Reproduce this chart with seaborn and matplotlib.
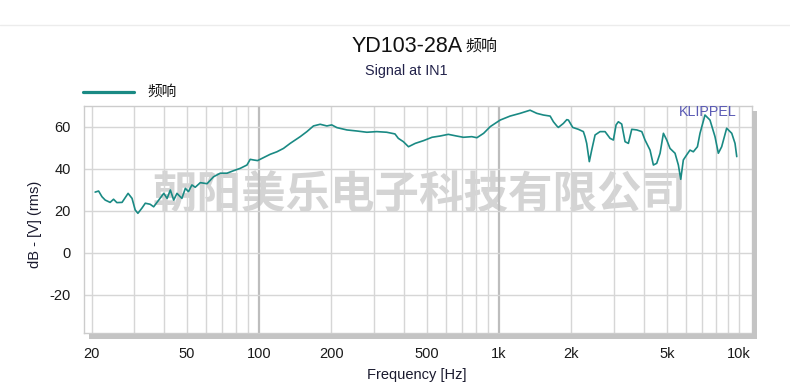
import matplotlib
matplotlib.use("Agg")
import matplotlib.pyplot as plt
import numpy as np
import pandas as pd
import seaborn as sns
from matplotlib.patches import Rectangle
from matplotlib.lines import Line2D
from matplotlib.ticker import MultipleLocator, NullLocator, FixedLocator

# ---------------- data ----------------
freq_hz = [20.7, 21.4, 22.1, 22.8, 23.9, 24.7, 25.5, 26.8, 28.4, 29.5,
           30.4, 31.2, 32.4, 33.5, 35.1, 36.3, 38.1, 40.0, 41.3, 42.6,
           44.0, 45.4, 47.6, 49.2, 50.7, 52.4, 54.1, 56.8, 60.6, 64.5,
           68.8, 73.4, 78.2, 83.3, 88.9, 91.7, 94.7, 98.4, 104.2, 111.1,
           118.5, 126.2, 134.6, 148.2, 158, 168.3, 179.5, 191.4, 200.6, 210.8,
           232, 255, 281, 309, 340, 368, 380, 399, 419, 447,
           484, 525, 567, 614, 665, 710, 769, 808, 862, 919,
           1010, 1111, 1223, 1346, 1436, 1530, 1632,
           1684, 1740, 1766, 1853, 1915, 1945, 2027, 2140, 2245, 2281,
           2318, 2377, 2432, 2512, 2635, 2765, 2901, 2995, 3073, 3141,
           3244, 3350, 3459, 3572, 3749, 3934, 4058, 4258, 4397, 4540,
           4688, 4841, 4998, 5158, 5412, 5588, 5717, 5861, 6051, 6248,
           6452, 6710, 6879, 7215, 7570, 7943, 8202, 8468, 8884, 9328,
           9626, 9788]
spl_db = [29, 29.5, 26.8, 25.2, 24.1, 25.6, 24, 24.1, 28.4, 26,
          20.5, 18.9, 21.3, 23.7, 23.2, 22, 25.2, 28.4, 26, 30,
          25.2, 28.4, 26, 30.8, 29.2, 32.4, 31.3, 33.5, 33, 36.3,
          38, 38, 39.2, 40.3, 41.9, 44.6, 44.3, 44, 45.4, 47,
          48.2, 49.8, 52.2, 55.4, 57.8, 60.5, 61.3, 60.5, 61, 59.7,
          58.6, 58.1, 57.5, 57.8, 57.5, 56.7, 54.6, 53, 50.6, 52.2,
          53.5, 55.1, 55.7, 56.5, 55.7, 55.1, 55.4, 54.9, 57, 60.2,
          63.3, 65.2, 66.5, 68, 66.5, 65.7, 65.2,
          62.5, 60.5, 59.8, 61.7, 63.5, 63.3, 59.8, 58.9, 57.8, 55.4,
          52.2, 43.5, 49, 56.2, 57.8, 57.8, 54.6, 53.8, 61, 62.5,
          61.4, 53, 52.2, 58.9, 58.6, 57.8, 53.8, 49, 41.9, 42.7,
          47.5, 57, 53.8, 49.8, 47.5, 41.9, 35.1, 44.3, 46.7, 49,
          48.2, 50.6, 57, 65.7, 63.3, 55.4, 47.5, 50.6, 59.4, 57,
          52.2, 45.9]

xtick_hz = [20, 50, 100, 200, 500, 1000, 2000, 5000, 10000]
xtick_labels = ["20", "50", "100", "200", "500", "1k", "2k", "5k", "10k"]
ytick_db = [-20, 0, 20, 40, 60]
grid_hz = [20, 30, 40, 50, 60, 70, 80, 90,
           200, 300, 400, 500, 600, 700, 800, 900,
           2000, 3000, 4000, 5000, 6000, 7000, 8000, 9000, 10000]
grid_major_hz = [100, 1000]

title_main = "YD103-28A"
title_cjk = "频响"
subtitle = "Signal at IN1"
series_name = "频响"
watermark = "朝阳美乐电子科技有限公司"

# ---------------- style ----------------
sns.set_style("white")
LAT = ["Liberation Sans", "DejaVu Sans"]
CJK = ["Noto Sans CJK SC", "DejaVu Sans"]
plt.rcParams["font.family"] = LAT
plt.rcParams["axes.unicode_minus"] = False

W, H = 790, 390
def fx(px):
    return px / W
def fy(py):
    return 1 - py / H

fig = plt.figure(figsize=(7.9, 3.9), dpi=100, facecolor="white")
ax = fig.add_axes([fx(84), fy(333), (752 - 84) / W, (333 - 106) / H])
ax.patch.set_alpha(0)

TEAL = "#1a8a84"
df = pd.DataFrame({"Frequency": freq_hz, "dB": spl_db})
sns.lineplot(data=df, x="Frequency", y="dB", ax=ax, color=TEAL,
             linewidth=1.2, zorder=3, legend=False)

ax.set_xscale("log")
ax.set_xlim(18.6, 11330)
ax.set_ylim(-38.1, 70)

# grid
for f in grid_hz:
    ax.axvline(f, color="#d6d6d6", lw=1.0, zorder=1)
for f in grid_major_hz:
    ax.axvline(f, color="#bdbdbd", lw=1.6, zorder=1)
for v in ytick_db:
    ax.axhline(v, color="#d6d6d6", lw=1.0, zorder=1)

ax.xaxis.set_major_locator(FixedLocator(xtick_hz))
ax.set_xticklabels(xtick_labels)
ax.xaxis.set_minor_locator(NullLocator())
ax.tick_params(axis="x", length=0, pad=10, labelsize=10.5, colors="#1a1a1a")

ax.set_yticks(ytick_db)
ax.yaxis.set_minor_locator(MultipleLocator(5))
ax.tick_params(axis="y", which="both", direction="in", length=5,
               width=0.8, color="#b8b8b8", pad=9.5, labelsize=10.5,
               labelcolor="#1a1a1a")
ax.set_xlabel("")
ax.set_ylabel("")
for s in ax.spines.values():
    s.set_color("#cccccc")
    s.set_linewidth(1.0)
    s.set_visible(True)

# shadow of the plot frame
fig.add_artist(Rectangle((fx(89), fy(339)), (757 - 89) / W, 5 / H,
                         facecolor="#c4c4c4", edgecolor="none"))
fig.add_artist(Rectangle((fx(752), fy(339)), 5 / W, (339 - 111) / H,
                         facecolor="#c4c4c4", edgecolor="none"))

# top separator line
fig.add_artist(Line2D([0, 1], [fy(25), fy(25)], color="#ececec", lw=1))

# watermark behind the grid
fig.text(fx(420), fy(196), watermark, ha="center", va="center",
         fontsize=32, color="#d4d4d4", family=CJK, weight="bold", zorder=-1)

# titles
fig.text(fx(462.7), fy(51.7), title_main, ha="right", va="baseline",
         fontsize=15.5, color="#111111", family=LAT)
fig.text(fx(465), fy(51.7), title_cjk, ha="left", va="baseline",
         fontsize=11.5, color="#111111", family=CJK)
fig.text(fx(365), fy(75), subtitle, ha="left", va="baseline",
         fontsize=10.4, color="#22224a", family=LAT)

# legend
fig.add_artist(Line2D([fx(83), fx(134)], [fy(92.3), fy(92.3)], color=TEAL, lw=2.3))
fig.text(fx(147), fy(92), series_name, ha="left", va="center",
         fontsize=10.5, color="#111111", family=CJK)

# KLIPPEL mark
fig.text(fx(737), fy(116.5), "KLIPPEL", ha="right", va="baseline",
         fontsize=10.3, color="#5a5ab4", family=LAT)

# axis labels
fig.text(fx(417), fy(379), "Frequency [Hz]", ha="center", va="baseline",
         fontsize=10.5, color="#1a1a2e", family=LAT)
fig.text(fx(35), fy(268), "dB - [V] (rms)", ha="center", va="bottom",
         rotation=90, fontsize=10.5, color="#1a1a2e", family=LAT)

fig.savefig("out.png", dpi=100, facecolor="white")
